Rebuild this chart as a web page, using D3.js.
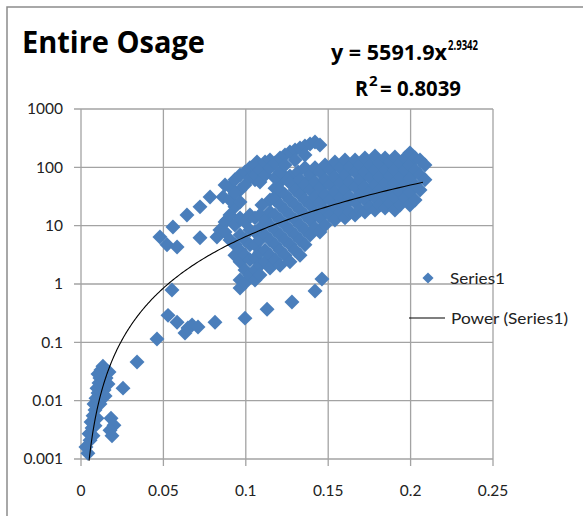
<!DOCTYPE html>
<html><head><meta charset="utf-8">
<script src="https://cdn.jsdelivr.net/npm/d3@7"></script>
<style>body{margin:0;background:#fff}svg{display:block}</style>
</head><body>
<script>
// ---- data ----
const xTicks = [0, 0.05, 0.1, 0.15, 0.2, 0.25];
const xTickLabels = ["0", "0.05", "0.1", "0.15", "0.2", "0.25"];
const yTicks = [0.001, 0.01, 0.1, 1, 10, 100, 1000];
const yTickLabels = ["0.001", "0.01", "0.1", "1", "10", "100", "1000"];
const fitA = 5591.9, fitB = 2.9342, fitR2 = 0.8039;
const fitRange = [0.0049, 0.2075];

// low cluster near origin
const lowX = [0.0042,0.0030,0.0055,0.0049,0.0067,0.0061,0.0073,0.0085,0.0079,0.0091,0.0103,0.0097,0.0109,0.0115,0.0103,0.0121,0.0133,0.0127,0.0140,0.0152,0.0164,0.0146,0.0115,0.0097,0.0085,0.0073,0.0170,0.0182,0.0200,0.0176,0.0188,0.0255,0.0340,0.0461];
const lowY = [0.00126,0.0016,0.0021,0.0027,0.0034,0.0043,0.0055,0.0069,0.0088,0.011,0.0135,0.0164,0.020,0.0244,0.0286,0.0335,0.039,0.021,0.0152,0.0244,0.0193,0.012,0.0088,0.005,0.0037,0.0025,0.031,0.005,0.0038,0.0031,0.0025,0.0164,0.046,0.114];
// lower sparse branch
const midX = [0.0552,0.0528,0.0583,0.0631,0.0649,0.0674,0.0710,0.0813,0.0995,0.1129,0.1280,0.1420,0.1462];
const midY = [0.79,0.29,0.22,0.144,0.176,0.198,0.183,0.22,0.26,0.37,0.49,0.76,1.22];
// upper-left scattered points
const leftX = [0.0479,0.0522,0.0583,0.0558,0.0643,0.0722,0.0783,0.0722,0.0825,0.0862,0.0904,0.0886,0.0843,0.0934,0.0965];
const leftY = [6.4,4.7,4.3,9.5,15.3,21,31,6.2,6.4,31,46,12.5,8.4,21,41];
// extra points filling the upper band between 0.1 and 0.14
const fillX = [0.1177,0.1208,0.1268,0.1317,0.1359,0.1190,0.1147,0.1098,0.1056,0.1068,0.1250,0.1290,0.1340,0.1380];
const fillY = [44,56,71,83,98,34,27.6,22.6,61,124,64,48,40,60];
// main band
const mainX = [
0.0874,0.0874,0.0874,
0.0904,0.0904,0.0904,
0.0934,0.0934,0.0934,0.0934,0.0934,
0.0965,0.0965,0.0965,0.0965,0.0965,0.0965,0.0965,0.0965,
0.0995,0.0995,0.0995,0.0995,0.0995,0.0995,0.0995,
0.1025,0.1025,0.1025,0.1025,0.1025,0.1025,0.1025,
0.1056,0.1056,0.1056,0.1056,0.1056,0.1056,0.1056,0.1056,
0.1086,0.1086,0.1086,0.1086,0.1086,0.1086,0.1086,0.1086,
0.1117,0.1117,0.1117,0.1117,0.1117,0.1117,
0.1147,0.1147,0.1147,0.1147,0.1147,0.1147,0.1147,
0.1177,0.1177,0.1177,0.1177,0.1177,0.1177,0.1177,
0.1208,0.1208,0.1208,0.1208,0.1208,0.1208,0.1208,0.1208,
0.1238,0.1238,0.1238,0.1238,0.1238,0.1238,0.1238,
0.1268,0.1268,0.1268,0.1268,0.1268,0.1268,0.1268,
0.1299,0.1299,0.1299,0.1299,0.1299,0.1299,0.1299,
0.1329,0.1329,0.1329,0.1329,0.1329,0.1329,0.1329,
0.1359,0.1359,0.1359,0.1359,0.1359,0.1359,0.1359,
0.1390,0.1390,0.1390,0.1390,0.1390,0.1390,
0.1420,0.1420,0.1420,0.1420,0.1420,0.1420,
0.1450,0.1450,0.1450,0.1450,0.1450,0.1450,
0.1481,0.1481,0.1481,0.1481,0.1481,
0.1511,0.1511,0.1511,0.1511,
0.1541,0.1541,0.1541,0.1541,0.1541,
0.1572,0.1572,0.1572,0.1572,
0.1602,0.1602,0.1602,0.1602,0.1602,
0.1632,0.1632,0.1632,0.1632,
0.1663,0.1663,0.1663,0.1663,0.1663,
0.1693,0.1693,0.1693,0.1693,
0.1723,0.1723,0.1723,0.1723,0.1723,
0.1754,0.1754,0.1754,0.1754,
0.1784,0.1784,0.1784,0.1784,0.1784,
0.1814,0.1814,0.1814,0.1814,
0.1845,0.1845,0.1845,0.1845,0.1845,
0.1875,0.1875,0.1875,0.1875,
0.1905,0.1905,0.1905,0.1905,0.1905,
0.1936,0.1936,0.1936,0.1936,
0.1966,0.1966,0.1966,0.1966,
0.1996,0.1996,0.1996,0.1996,0.1996,
0.2027,0.2027,0.2027,0.2027,
0.2057,0.2057,0.2057,
0.2087,0.2087];
const mainY = [
50,11.6,7.8,
27.6,15.3,5.7,
61,36,10.3,4.7,3.1,
74,25.5,13.6,6.9,3.8,2.4,1.17,0.85,
83,50,11.6,5.7,3.1,1.74,1.04,
98,66,15.3,8.4,4.7,2.6,1.43,
110,74,13.6,7.8,4.7,2.8,1.74,1.17,
90,56,15.3,9.1,5.7,3.5,2.1,1.43,
124,74,12.5,6.9,3.8,2.4,
134,98,17.2,10.3,5.7,3.1,1.88,
119,66,27.6,15.3,8.4,4.7,2.6,
145,83,41,22.6,12.5,6.9,3.8,2.1,
163,110,34,18.6,10.3,5.7,3.1,
184,54,27.6,15.3,8.4,4.7,2.4,
199,134,41,22.6,12.5,6.9,3.8,
215,61,34,18.6,10.3,5.7,3.1,
233,163,50,27.6,15.3,8.4,4.7,
252,74,41,22.6,12.5,6.9,
272,98,56,31,17.2,9.1,
242,83,44,24.5,13.6,7.8,
110,61,34,18.6,10.3,
90,50,27.6,15.3,
124,68,38,21,12.5,
98,54,30,17.2,
134,74,41,22.6,13.6,
102,56,31,17.2,
134,83,46,25.5,15.3,
110,61,34,18.6,
145,83,46,27.6,17.2,
110,66,38,21,
157,90,50,30,18.6,
119,68,41,22.6,
145,90,54,31,20,
124,71,41,24.5,
151,90,54,31,18.6,
119,68,38,22.6,
145,90,50,30,
177,110,66,38,22.6,
145,90,50,27.6,
134,74,41,
110,61];

const allX = lowX.concat(midX, leftX, fillX, mainX);
const allY = lowY.concat(midY, leftY, fillY, mainY);
const points = allX.map((x, i) => ({x, y: allY[i]}));

// ---- drawing ----
const W = 583, H = 516;
const svg = d3.select("body").append("svg").attr("width", W).attr("height", H);
const x = d3.scaleLinear().domain([0, 0.25]).range([81, 493]);
const y = d3.scaleLog().domain([0.001, 1000]).range([459, 109]);
const grid = "#a3a3a3";
const blue = "#4A7EBB";
const lab = "Lato, 'Open Sans', sans-serif";

// outer chart border (left & top visible)
svg.append("path").attr("d", `M7,${H} V7 H${W}`).attr("fill", "none")
  .attr("stroke", "#8c8c8c").attr("stroke-width", 1.5);

// gridlines
svg.append("g").selectAll("line").data(yTicks).join("line")
  .attr("x1", 74).attr("x2", x(0.25)).attr("y1", d => y(d)).attr("y2", d => y(d))
  .attr("stroke", grid).attr("stroke-width", 1.3);
svg.append("g").selectAll("line").data(xTicks).join("line")
  .attr("x1", d => x(d)).attr("x2", d => x(d)).attr("y1", y(1000)).attr("y2", 466)
  .attr("stroke", grid).attr("stroke-width", 1.3);

// tick labels
svg.append("g").selectAll("text").data(yTicks).join("text")
  .attr("x", 63).attr("y", d => y(d)).attr("dy", "0.35em").attr("text-anchor", "end")
  .attr("font-family", lab).attr("font-size", 15.5).attr("fill", "#222")
  .text((d, i) => yTickLabels[i]);
svg.append("g").selectAll("text").data(xTicks).join("text")
  .attr("x", d => x(d)).attr("y", 491).attr("dy", "0.35em").attr("text-anchor", "middle")
  .attr("font-family", lab).attr("font-size", 15.5).attr("fill", "#222")
  .text((d, i) => xTickLabels[i]);

// points
const sym = d3.symbol().type(d3.symbolSquare).size(112);
svg.append("g").selectAll("path").data(points).join("path")
  .attr("d", sym)
  .attr("transform", d => `translate(${x(d.x)},${y(d.y)}) rotate(45)`)
  .attr("fill", blue);

// power trendline
const fx = d3.range(0, 201).map(i => fitRange[0] * Math.pow(fitRange[1] / fitRange[0], i / 200));
svg.append("path")
  .attr("d", d3.line().x(d => x(d)).y(d => y(fitA * Math.pow(d, fitB)))(fx))
  .attr("fill", "none").attr("stroke", "#000").attr("stroke-width", 1.1);

// title
const tf = "'Liberation Sans Narrow', 'Open Sans', sans-serif";
svg.append("text").attr("x", 22).attr("y", 53).attr("font-family", tf)
  .attr("font-weight", "bold").attr("font-size", 30)
  .attr("textLength", 183).attr("lengthAdjust", "spacingAndGlyphs").text("Entire Osage");

// equation
svg.append("text").attr("x", 331).attr("y", 60).attr("font-family", tf)
  .attr("font-weight", "bold").attr("font-size", 22)
  .attr("textLength", 116).attr("lengthAdjust", "spacingAndGlyphs").text(`y = ${fitA}x`);
svg.append("text").attr("x", 448).attr("y", 50).attr("font-family", tf)
  .attr("font-weight", "bold").attr("font-size", 15)
  .attr("textLength", 30).attr("lengthAdjust", "spacingAndGlyphs").text(`${fitB}`);
svg.append("text").attr("x", 355).attr("y", 96).attr("font-family", tf)
  .attr("font-weight", "bold").attr("font-size", 22)
  .attr("textLength", 13).attr("lengthAdjust", "spacingAndGlyphs").text("R");
svg.append("text").attr("x", 369).attr("y", 86).attr("font-family", tf)
  .attr("font-weight", "bold").attr("font-size", 15).text("2");
svg.append("text").attr("x", 380).attr("y", 96).attr("font-family", tf)
  .attr("font-weight", "bold").attr("font-size", 22)
  .attr("textLength", 81).attr("lengthAdjust", "spacingAndGlyphs").text(`= ${fitR2}`);

// legend
svg.append("path").attr("d", d3.symbol().type(d3.symbolSquare).size(62))
  .attr("transform", "translate(428,278) rotate(45)").attr("fill", blue);
svg.append("text").attr("x", 450).attr("y", 278).attr("dy", "0.35em")
  .attr("font-family", lab).attr("font-size", 16).attr("fill", "#222")
  .attr("textLength", 55).attr("lengthAdjust", "spacingAndGlyphs").text("Series1");
svg.append("line").attr("x1", 409).attr("x2", 445).attr("y1", 318).attr("y2", 318)
  .attr("stroke", "#000").attr("stroke-width", 1.1);
svg.append("text").attr("x", 451).attr("y", 318).attr("dy", "0.35em")
  .attr("font-family", lab).attr("font-size", 16).attr("fill", "#222")
  .attr("textLength", 117).attr("lengthAdjust", "spacingAndGlyphs").text("Power (Series1)");
</script>
</body></html>
